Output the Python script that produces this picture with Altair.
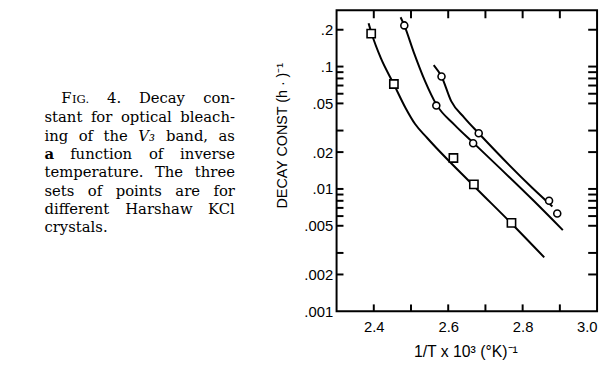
import altair as alt
import pandas as pd

# ---- data ----
sq_x = [2.393, 2.454, 2.614, 2.669, 2.770]
sq_y = [0.186, 0.072, 0.0179, 0.0109, 0.00528]

circ_x = [2.482, 2.568, 2.667, 2.893, 2.582, 2.682, 2.871]
circ_y = [0.217, 0.048, 0.0236, 0.0063, 0.083, 0.0285, 0.0080]

curve_sq_x = [2.386, 2.3955, 2.419, 2.454, 2.485, 2.511, 2.543, 2.669, 2.770, 2.858]
curve_sq_y = [0.226, 0.181, 0.117, 0.0716, 0.0461, 0.0339, 0.0262, 0.01057, 0.00522, 0.00276]
curve_a_x = [2.472, 2.482, 2.507, 2.538, 2.568, 2.617, 2.667, 2.827, 2.908]
curve_a_y = [0.253, 0.217, 0.132, 0.0757, 0.0491, 0.0334, 0.0239, 0.00815, 0.00461]
curve_b_x = [2.561, 2.582, 2.608, 2.643, 2.682, 2.827, 2.880]
curve_b_y = [0.103, 0.083, 0.0522, 0.0383, 0.0285, 0.01014, 0.00719]

y_label_values = [0.2, 0.1, 0.05, 0.02, 0.01, 0.005, 0.002, 0.001]
y_tick_values = [0.002, 0.003, 0.005, 0.006, 0.007, 0.008, 0.009, 0.01, 0.02, 0.03,
                 0.05, 0.06, 0.07, 0.08, 0.09, 0.1, 0.2]
x_label_values = [2.4, 2.6, 2.8, 3.0]
x_tick_values = [2.4, 2.5, 2.6, 2.7, 2.8, 2.9]

y_title = "DECAY CONST  (h · )⁻¹"
x_title = "1/T  x 10³ (°K)⁻¹"

caption_lines = [
    ["FIG.", "4.", "Decay", "con-"],
    ["stant", "for", "optical", "bleach-"],
    ["ing", "of", "the", "V₃", "band,", "as"],
    ["a", "function", "of", "inverse"],
    ["temperature.", "The", "three"],
    ["sets", "of", "points", "are", "for"],
    ["different", "Harshaw", "KCl"],
    ["crystals."],
]

# ---- layout (page pixels) ----
W, H = 264, 305
LEFT, TOP = 341, 8
CAP_L, CAP_R, CAP_INDENT = 45, 238, 17
CAP_FS = 15
cap_base = [102, 121, 140, 159, 177, 196, 214, 233]
TICK_COLOR = "black"

# approximate DejaVu Serif advance widths (em) for justification
GW = dict(zip("abcdefghijklmnopqrstuvwxyz",
              [.596, .640, .560, .640, .592, .370, .640, .644, .320, .310, .606, .320, .948,
               .644, .602, .640, .640, .478, .513, .402, .644, .565, .856, .564, .565, .523]))
GW.update({".": .318, ",": .318, "-": .338, "F": .727, "I": .39, "G": .775, "D": .83,
           "V": .77, "T": .68, "K": .77, "C": .73, "H": .87, "4": .636, "₃": .40})


def wlen(w):
    if w == "FIG.":
        return (GW["F"] + (GW["I"] + GW["G"] + GW["."]) * 0.78) * CAP_FS
    return sum(GW.get(c, .6) for c in w) * CAP_FS


xscale = alt.Scale(domain=[2.3, 3.0], nice=False, zero=False)
yscale = alt.Scale(type="log", domain=[0.001, 0.288], nice=False)

lab_common = dict(domain=False, grid=False, ticks=False, tickSize=0, title=None,
                  labelFont="Liberation Sans", labelFontSize=15, labelColor="black")
ax_left = alt.Axis(orient="left", values=y_label_values,
                   labelExpr="replace(format(datum.value, '~g'), '0.', '.')",
                   labelPadding=4, **lab_common)
ax_bottom = alt.Axis(orient="bottom", values=x_label_values, format=".1f",
                     labelPadding=8, labelFlush=True, **lab_common)

Xn = alt.X("x:Q", scale=xscale, axis=None)
Yn = alt.Y("y:Q", scale=yscale, axis=None)


def curve(xs, ys):
    return alt.Chart(pd.DataFrame({"x": xs, "y": ys})).mark_line(
        color="black", strokeWidth=2, interpolate="monotone").encode(x=Xn, y=Yn)


layers = [curve(curve_sq_x, curve_sq_y), curve(curve_a_x, curve_a_y), curve(curve_b_x, curve_b_y)]

layers.append(alt.Chart(pd.DataFrame({"x": sq_x, "y": sq_y})).mark_point(
    shape="square", size=70, filled=True, fill="white", stroke="black", strokeWidth=1.6, opacity=1
).encode(x=alt.X("x:Q", scale=xscale, axis=ax_bottom),
         y=alt.Y("y:Q", scale=yscale, axis=ax_left)))
layers.append(alt.Chart(pd.DataFrame({"x": circ_x, "y": circ_y})).mark_point(
    shape="circle", size=50, filled=True, fill="white", stroke="black", strokeWidth=1.6, opacity=1
).encode(x=Xn, y=Yn))

# inward frame ticks
ydf = pd.DataFrame({"y": y_tick_values})
xdf = pd.DataFrame({"x": x_tick_values})
TW = 2
layers.append(alt.Chart(ydf).mark_rule(color=TICK_COLOR, strokeWidth=TW).encode(
    y=Yn, x=alt.value(0), x2=alt.value(7)))
layers.append(alt.Chart(ydf).mark_rule(color=TICK_COLOR, strokeWidth=TW).encode(
    y=Yn, x=alt.value(W - 9), x2=alt.value(W)))
layers.append(alt.Chart(xdf).mark_rule(color=TICK_COLOR, strokeWidth=TW).encode(
    x=Xn, y=alt.value(0), y2=alt.value(8)))
layers.append(alt.Chart(xdf).mark_rule(color=TICK_COLOR, strokeWidth=TW).encode(
    x=Xn, y=alt.value(H - 7), y2=alt.value(H)))


def txt(s, px, py, **kw):
    return alt.Chart(pd.DataFrame({"t": [s]})).mark_text(**kw).encode(
        text="t:N", x=alt.value(px - LEFT), y=alt.value(py - TOP))


layers.append(txt(y_title, 287, 135, angle=270, align="center", baseline="middle",
                  font="Liberation Sans", fontSize=14.5, color="black"))
layers.append(txt(x_title, 472, 354, align="center", baseline="middle",
                  font="Liberation Sans", fontSize=16, color="black"))

for li, words in enumerate(caption_lines):
    left = CAP_L + (CAP_INDENT if li == 0 else 0)
    n = len(words)
    widths = [wlen(w) for w in words]
    if n > 1 and li < len(caption_lines) - 1:
        gap = (CAP_R - left - sum(widths)) / (n - 1)
    else:
        gap = 0.32 * CAP_FS
    xpos = left
    for wi, w in enumerate(words):
        kw = dict(align="left", baseline="alphabetic", font="DejaVu Serif", fontSize=CAP_FS,
                  color="black")
        if w == "FIG.":
            layers.append(txt("F", xpos, cap_base[li], **kw))
            kw2 = dict(kw, fontSize=CAP_FS * 0.78)
            layers.append(txt("IG.", xpos + GW["F"] * CAP_FS, cap_base[li], **kw2))
        else:
            if w == "V₃":
                kw["fontStyle"] = "italic"
            if w == "a":
                kw["fontWeight"] = "bold"
            layers.append(txt(w, xpos, cap_base[li], **kw))
        xpos += widths[wi] + gap

chart = alt.layer(*layers).resolve_axis(x="independent", y="independent").properties(
    width=W, height=H,
    autosize=alt.AutoSizeParams(type="none"),
    padding={"left": LEFT - 8, "top": TOP - 8, "right": 5, "bottom": 50},
    background="white",
).configure_view(stroke="black", strokeWidth=2)

chart.save("out.html", embed_options={"renderer": "svg", "actions": False})
